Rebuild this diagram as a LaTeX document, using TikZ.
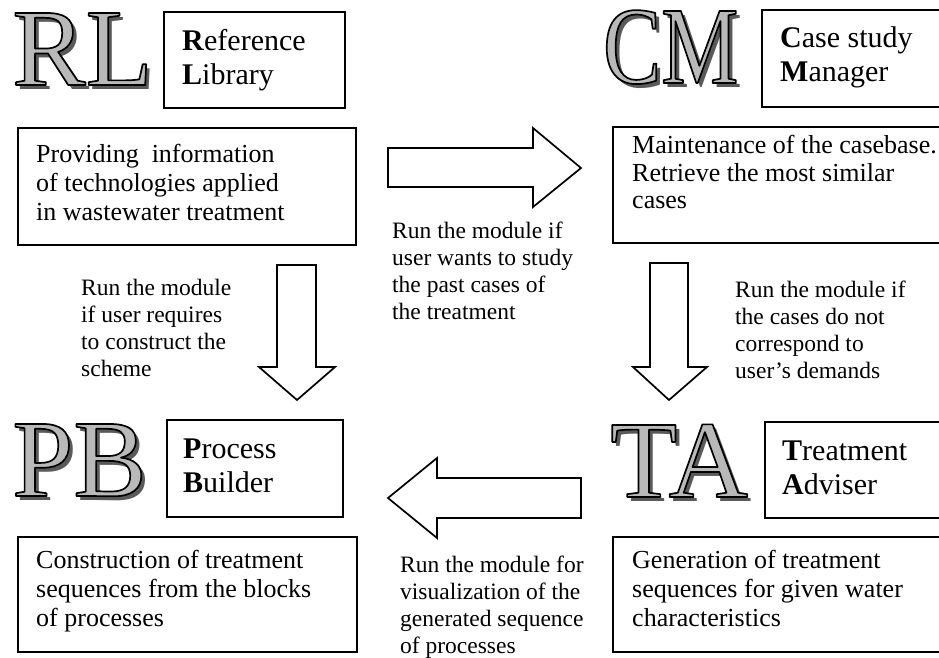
\documentclass[tikz,border=0pt]{standalone}
\usepackage{fontspec}
\setmainfont{Liberation Serif}
\newfontfamily\narrowserif[FakeStretch=0.79]{Liberation Serif}
\definecolor{letterfill}{RGB}{185,185,185}
\definecolor{lettershadow}{RGB}{90,90,90}
\tikzset{
  boxframe/.style={draw, line width=1.6pt, rectangle, anchor=north west, inner sep=0pt, outer sep=0pt},
  boxtext/.style={anchor=north west, inner sep=0pt, align=left},
  lbl/.style={boxtext, font=\fontsize{30}{34.5}\selectfont},
  desc/.style={boxtext, font=\fontsize{26}{29}\selectfont},
  note/.style={boxtext, font=\fontsize{23.5}{27}\selectfont},
  bigtext/.style={anchor=base west, inner sep=0pt, font=\fontsize{110}{110}\selectfont},
  blockarrow/.style={draw, line width=1.7pt, fill=white, line join=miter},
}
% outlined text: fill in current colour, black stroke
\newcommand{\outlinedtext}[1]{\special{pdf:literal direct 0 G 1.7 w 1 j 2 Tr}#1\special{pdf:literal direct 0 Tr}}
% name, position, text
\newcommand{\bigmark}[3]{%
  \node[bigtext, text=lettershadow, xshift=4pt, yshift=-4pt] (#1shadow) at #2 {#3};
  \node[bigtext, text=letterfill] (#1) at #2 {\outlinedtext{#3}};
}
\begin{document}
\begin{tikzpicture}[x=1pt, y=-1pt]
\useasboundingbox (0,0) rectangle (939,657);
\clip (0,0) rectangle (939,657);

% big letter marks
\bigmark{rl}{(12,85)}{RL}
\bigmark{cm}{(603,83)}{\narrowserif CM}
\bigmark{pb}{(12,496)}{PB}
\bigmark{ta}{(610,497)}{TA}

% module name boxes
\node[boxframe, minimum width=181pt, minimum height=96pt] (rlbox) at (164,12) {};
\node[lbl] (rlname) at (182,28) {\rule{0pt}{22pt}\textbf{R}eference\\\textbf{L}ibrary};

\node[boxframe, minimum width=200pt, minimum height=97pt] (cmbox) at (762,10) {};
\node[lbl] (cmname) at (780,25) {\rule{0pt}{22pt}\textbf{C}ase study\\\textbf{M}anager};

\node[boxframe, minimum width=176pt, minimum height=97pt] (pbbox) at (167,420) {};
\node[lbl] (pbname) at (183,436) {\rule{0pt}{22pt}\textbf{P}rocess\\\textbf{B}uilder};

\node[boxframe, minimum width=200pt, minimum height=96pt] (tabox) at (765,422) {};
\node[lbl] (taname) at (782,438) {\rule{0pt}{22pt}\textbf{T}reatment\\\textbf{A}dviser};

% description boxes
\node[boxframe, minimum width=338pt, minimum height=117pt] (rldescbox) at (18,128) {};
\node[desc] (rldesc) at (36,142) {\rule{0pt}{20pt}Providing\ \ information\\of technologies applied\\in wastewater treatment};

\node[boxframe, minimum width=360pt, minimum height=116pt] (cmdescbox) at (613,127) {};
\node[desc, font=\fontsize{26}{27.8}\selectfont] (cmdesc) at (632,133) {\rule{0pt}{20pt}Maintenance of the casebase.\\Retrieve the most similar\\cases};

\node[boxframe, minimum width=339pt, minimum height=115pt] (pbdescbox) at (18,537) {};
\node[desc] (pbdesc) at (36,548) {\rule{0pt}{20pt}Construction of treatment\\sequences from the blocks\\of processes};

\node[boxframe, minimum width=360pt, minimum height=115pt] (tadescbox) at (613,537) {};
\node[desc] (tadesc) at (632,548) {\rule{0pt}{20pt}Generation of treatment\\sequences for given water\\characteristics};

% block arrows
\draw[blockarrow] (388,148) -- (533,148) -- (533,128) -- (581,168) -- (533,207) -- (533,187) -- (388,187) -- cycle;
\draw[blockarrow] (277,265) -- (316,265) -- (316,367) -- (335,367) -- (297,400) -- (259,367) -- (277,367) -- cycle;
\draw[blockarrow] (650,263) -- (688,263) -- (688,367) -- (707,367) -- (669,400) -- (633,367) -- (650,367) -- cycle;
\draw[blockarrow] (581,478) -- (437,478) -- (437,458) -- (388,498) -- (437,538) -- (437,518) -- (581,518) -- cycle;

% arrow notes
\node[note] (noteleft) at (81,277) {\rule{0pt}{18pt}Run the module\\if user requires\\to construct the\\scheme};
\node[note] (notemid) at (392,220) {\rule{0pt}{18pt}Run the module if\\user wants to study\\the past cases of\\the treatment};
\node[note] (noteright) at (735,279) {\rule{0pt}{18pt}Run the module if\\the cases do not\\correspond to\\user’s demands};
\node[note] (notebottom) at (400,554) {\rule{0pt}{18pt}Run the module for\\visualization of the\\generated sequence\\of processes};
\end{tikzpicture}
\end{document}
